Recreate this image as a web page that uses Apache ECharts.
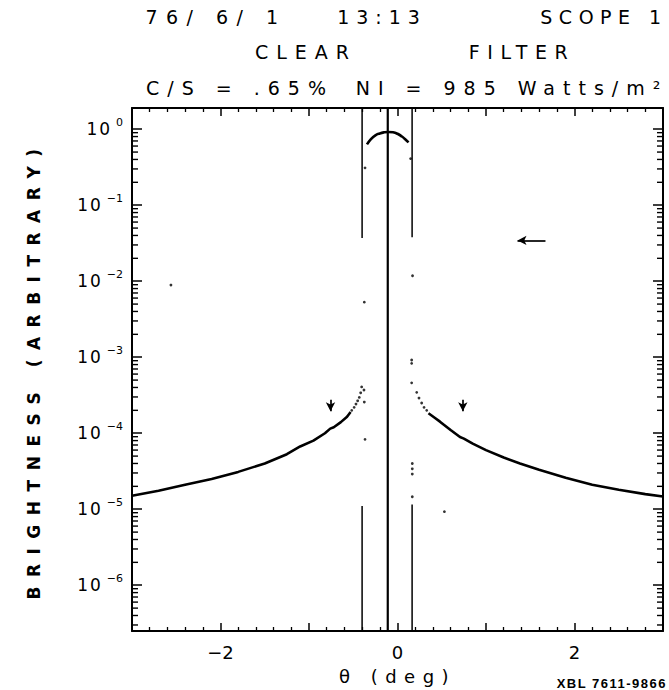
<!DOCTYPE html>
<html>
<head>
<meta charset="utf-8">
<script src="https://cdn.jsdelivr.net/npm/echarts@6/dist/echarts.min.js"></script>
<style>
  html, body { margin: 0; padding: 0; background: #fff; }
  #chart { width: 669px; height: 690px; }
</style>
</head>
<body>
<div id="chart"></div>
<script>
// axis range (log y)
const Y_MIN = 2.5e-7
const Y_MAX = 1.9

// solid wings of the profile
const leftWingTheta = [-3.0, -2.7, -2.4, -2.1, -1.8, -1.5, -1.25, -1.1, -0.95, -0.82, -0.76, -0.72, -0.64, -0.57, -0.53]
const leftWingBright = [1.5e-5, 1.75e-5, 2.1e-5, 2.5e-5, 3.1e-5, 4.0e-5, 5.3e-5, 6.7e-5, 8.0e-5, 1.0e-4, 1.15e-4, 1.2e-4, 1.4e-4, 1.65e-4, 1.9e-4]
const rightWingTheta = [0.35, 0.42, 0.48, 0.6, 0.706, 0.75, 0.85, 1.0, 1.2, 1.384, 1.6, 1.9, 2.2, 2.5, 2.8, 3.0]
const rightWingBright = [1.83e-4, 1.6e-4, 1.42e-4, 1.1e-4, 8.9e-5, 8.5e-5, 7.3e-5, 6.0e-5, 4.8e-5, 4.0e-5, 3.3e-5, 2.6e-5, 2.1e-5, 1.8e-5, 1.58e-5, 1.47e-5]

// sun disk top
const diskTheta = [-0.345, -0.3, -0.25, -0.2, -0.15, -0.105, -0.05, 0.0, 0.05, 0.09, 0.125]
const diskBright = [0.63, 0.74, 0.83, 0.88, 0.91, 0.92, 0.91, 0.87, 0.80, 0.73, 0.67]

// single plotted points near the limb
const dotTheta = [-0.517, -0.49, -0.469, -0.45, -0.432, -0.416, -0.405, -0.379, -0.375, -0.367, -0.375, -0.367,
                  0.16, 0.16, 0.16, 0.217, 0.243, 0.273, 0.3, 0.33, 0.167, 0.167, 0.167, 0.167, 0.148, 0.17,
                  -2.56, 0.53]
const dotBright = [2.0e-4, 2.19e-4, 2.42e-4, 2.67e-4, 2.96e-4, 3.4e-4, 4.07e-4, 3.7e-4, 2.57e-4, 8.3e-5, 5.3e-3, 0.31,
                   9.2e-4, 8.3e-4, 4.6e-4, 3.45e-4, 2.9e-4, 2.5e-4, 2.19e-4, 2.0e-4, 4.0e-5, 3.4e-5, 2.9e-5, 1.46e-5, 0.41, 0.0118,
                   0.0089, 9.3e-6]

// vertical traces: theta, from, to, width
const vertTheta = [-0.40, -0.40, -0.11, 0.165, 0.165]
const vertFrom = [Y_MAX, 1.1e-5, Y_MAX, Y_MAX, 1.15e-5]
const vertTo = [0.037, Y_MIN, Y_MIN, 0.038, Y_MIN]
const vertWidth = [1.5, 1.5, 2.2, 1.5, 1.5]

// arrows: start -> end
const arrowStart = [[1.672, 0.0344], [-0.757, 2.75e-4], [0.738, 2.75e-4]]
const arrowEnd = [[1.356, 0.0344], [-0.757, 1.94e-4], [0.738, 1.94e-4]]

const xLabels = { '-2': '\u22122', '0': '0', '2': '2' }

const FONT = 'DejaVu Sans'

function zip (a, b) {
    return a.map((v, i) => [v, b[i]])
}

// 2..9 x 10^n ticks for the log axis
function logMinorTicks () {
    const out = []
    for (let d = -7; d <= 0; d++) {
        for (let k = 2; k <= 9; k++) {
            const v = k * Math.pow(10, d)
            if (v > Y_MIN && v < Y_MAX) out.push([0, v])
        }
    }
    return out
}

function header (text, x, y) {
    return {
        type: 'text', x: x, y: y,
        style: { text: text, font: '19px "DejaVu Sans"', fill: '#000', textAlign: 'center', textVerticalAlign: 'middle' }
    }
}

const chart = echarts.init(document.getElementById('chart'), null, { renderer: 'svg' })

const series = []

series.push({
    type: 'line', data: zip(leftWingTheta, leftWingBright), symbol: 'none',
    lineStyle: { color: '#000', width: 2.6 }
})
series.push({
    type: 'line', data: zip(rightWingTheta, rightWingBright), symbol: 'none',
    lineStyle: { color: '#000', width: 2.6 }
})
series.push({
    type: 'line', data: zip(diskTheta, diskBright), symbol: 'none', smooth: true,
    lineStyle: { color: '#000', width: 2.6 }
})
series.push({
    type: 'scatter', data: zip(dotTheta, dotBright), symbol: 'circle', symbolSize: 2.8,
    itemStyle: { color: '#000' }
})

vertTheta.forEach(function (t, i) {
    series.push({
        type: 'line', data: [[t, vertFrom[i]], [t, vertTo[i]]], symbol: 'none',
        lineStyle: { color: '#000', width: vertWidth[i] }
    })
})

// arrows
series.push({
    type: 'line', data: [],
    markLine: {
        silent: true, animation: false,
        symbol: ['none', 'arrow'], symbolSize: [7, 9],
        label: { show: false },
        lineStyle: { color: '#000', width: 1.7, type: 'solid' },
        data: arrowStart.map((s, i) => [{ coord: s }, { coord: arrowEnd[i] }])
    }
})

// minor log ticks on left and right frame
series.push({
    type: 'custom', data: logMinorTicks(), silent: true,
    renderItem: function (params, api) {
        const y = api.coord([0, api.value(1)])[1]
        const cs = params.coordSys
        const st = { stroke: '#000', lineWidth: 1.4 }
        return {
            type: 'group',
            children: [
                { type: 'line', shape: { x1: cs.x, y1: y, x2: cs.x + 6, y2: y }, style: st },
                { type: 'line', shape: { x1: cs.x + cs.width - 6, y1: y, x2: cs.x + cs.width, y2: y }, style: st }
            ]
        }
    }
})

const axisLine = { show: true, onZero: false, lineStyle: { color: '#000', width: 2 } }

const option = {
    animation: false,
    backgroundColor: '#fff',
    grid: { left: 132, right: 6, top: 108, bottom: 59 },
    xAxis: [
        {
            type: 'value', min: -3, max: 3, interval: 1, position: 'bottom',
            axisLine: axisLine,
            axisTick: { inside: true, length: 8, lineStyle: { color: '#000', width: 1.5 } },
            minorTick: { show: true, splitNumber: 5, length: 4, lineStyle: { color: '#000', width: 1.3 } },
            splitLine: { show: false },
            axisLabel: {
                margin: 12, color: '#000', fontFamily: FONT, fontSize: 18,
                formatter: v => xLabels[String(v)] || ''
            },
            name: '\u03b8 (deg)', nameLocation: 'middle', nameGap: 36,
            nameTextStyle: { color: '#000', fontFamily: FONT, fontSize: 18 }
        },
        {
            type: 'value', min: -3, max: 3, interval: 1, position: 'top',
            axisLine: axisLine,
            axisTick: { inside: true, length: 8, lineStyle: { color: '#000', width: 1.5 } },
            minorTick: { show: true, splitNumber: 5, length: 4, lineStyle: { color: '#000', width: 1.3 } },
            splitLine: { show: false },
            axisLabel: { show: false }
        }
    ],
    yAxis: [
        {
            type: 'log', min: Y_MIN, max: Y_MAX, position: 'left',
            axisLine: axisLine,
            axisTick: { inside: true, length: 10, lineStyle: { color: '#000', width: 1.5 } },
            splitLine: { show: false },
            axisLabel: {
                margin: 9, showMinLabel: false, showMaxLabel: false,
                formatter: function (v) {
                    const e = Math.round(Math.log10(v))
                    return '{b|10}{s|' + (e === 0 ? '0' : '\u2212' + (-e)) + '}'
                },
                rich: {
                    b: { color: '#000', fontFamily: FONT, fontSize: 17 },
                    s: { color: '#000', fontFamily: FONT, fontSize: 11, padding: [0, 0, 14, 4] }
                }
            },
            name: 'BRIGHTNESS (ARBITRARY)', nameLocation: 'middle', nameGap: 90, nameRotate: 90,
            nameTextStyle: { color: '#000', fontFamily: FONT, fontSize: 17, fontWeight: 'bold' }
        },
        {
            type: 'log', min: Y_MIN, max: Y_MAX, position: 'right',
            axisLine: axisLine,
            axisTick: { inside: true, length: 10, lineStyle: { color: '#000', width: 1.5 } },
            splitLine: { show: false },
            axisLabel: { show: false }
        }
    ],
    graphic: [
        header('76/ 6/ 1', 216, 17),
        header('13:13', 382, 17),
        header('SCOPE 1', 604, 17),
        header('CLEAR', 306, 52),
        header('FILTER', 522, 52),
        header('C/S = .65%', 240, 88),
        header('NI = 985 Watts/m\u00b2', 512, 88),
        { type: 'text', x: 667, y: 683, style: { text: 'XBL 7611-9866', font: 'bold 13px "Liberation Sans"', fill: '#000', textAlign: 'right', textVerticalAlign: 'middle' } }
    ],
    series: series.map(s => Object.assign({ xAxisIndex: 0, yAxisIndex: 0 }, s))
}

chart.setOption(option)

// the plotter lettering is widely spaced, widen the svg texts
const spacing = {
    '76/ 6/ 1': 8.5, '13:13': 7, 'SCOPE 1': 6.5, 'CLEAR': 8, 'FILTER': 7.5,
    'C/S = .65%': 8, 'NI = 985 Watts/m\u00b2': 8,
    'BRIGHTNESS (ARBITRARY)': 9.5, '\u03b8 (deg)': 7.5, '10': 2, 'XBL 7611-9866': 1.5
}
function spreadText () {
    document.querySelectorAll('#chart text').forEach(function (el) {
        const sp = spacing[el.textContent]
        if (sp) el.style.letterSpacing = sp + 'px'
    })
}
chart.on('finished', spreadText)
spreadText()
</script>
</body>
</html>
